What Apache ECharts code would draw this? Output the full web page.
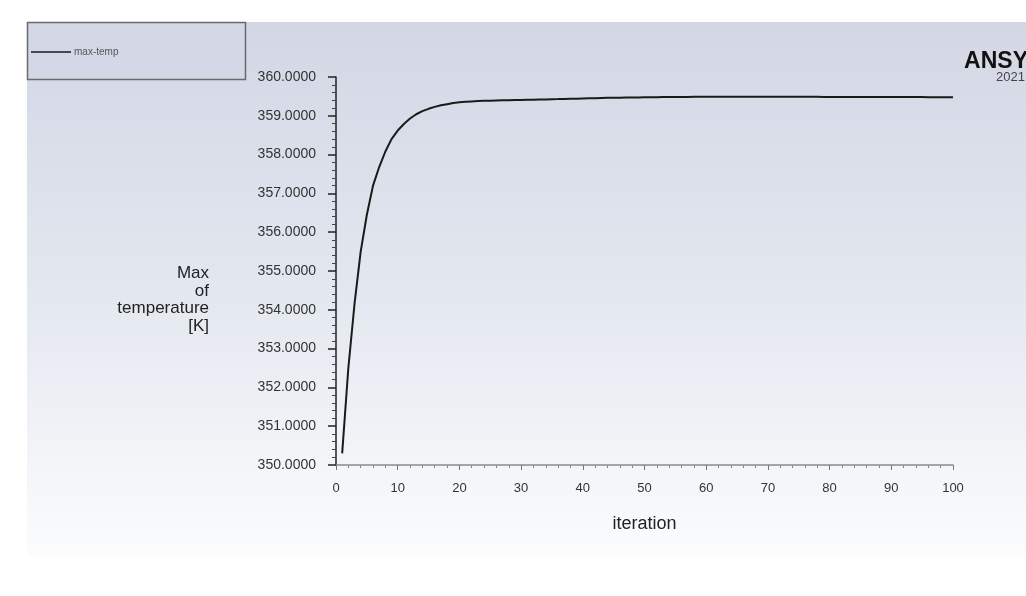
<!DOCTYPE html>
<html>
<head>
<meta charset="utf-8">
<script src="https://cdn.jsdelivr.net/npm/echarts@6/dist/echarts.min.js"></script>
<style>
html,body{margin:0;padding:0;background:#fff;}
#chart{width:1026px;height:596px;}
</style>
</head>
<body>
<div id="chart"></div>
<script>
const seriesName = 'max-temp';
const iterations = [];
for (let i = 1; i <= 100; i++) iterations.push(i);
const maxTemp = [
  350.30, 352.50, 354.15, 355.50, 356.45, 357.20, 357.68, 358.08, 358.40, 358.62,
  358.79, 358.93, 359.04, 359.12, 359.18, 359.23, 359.27, 359.30, 359.33, 359.35,
  359.36, 359.37, 359.38, 359.385, 359.39, 359.395, 359.40, 359.40, 359.405, 359.41,
  359.413, 359.416, 359.42, 359.423, 359.427, 359.43, 359.434, 359.438, 359.442, 359.446,
  359.45, 359.454, 359.458, 359.462, 359.465, 359.468, 359.47, 359.472, 359.474, 359.476,
  359.478, 359.48, 359.482, 359.484, 359.485, 359.486, 359.487, 359.488, 359.489, 359.49,
  359.49, 359.491, 359.491, 359.492, 359.492, 359.492, 359.492, 359.491, 359.491, 359.491,
  359.49, 359.49, 359.49, 359.489, 359.489, 359.488, 359.488, 359.488, 359.487, 359.487,
  359.486, 359.486, 359.486, 359.485, 359.485, 359.485, 359.484, 359.484, 359.484, 359.483,
  359.483, 359.483, 359.482, 359.482, 359.482, 359.481, 359.481, 359.481, 359.48, 359.48
];
const xTicks = { min: 0, max: 100, interval: 10 };
const yTicks = { min: 350, max: 360, interval: 1 };
const yTitle = 'Max\nof\ntemperature\n[K]';
const xTitle = 'iteration';
const logoMain = 'ANSY';
const logoSub = '2021';

const chart = echarts.init(document.getElementById('chart'), null, {renderer: 'canvas'});
const font = '"Liberation Sans", Arial, sans-serif';
chart.setOption({
  backgroundColor: '#ffffff',
  animation: false,
  textStyle: { fontFamily: font },
  graphic: [
    { type: 'rect', z: -10, silent: true,
      shape: { x: 27, y: 22, width: 999, height: 533 },
      style: { fill: new echarts.graphic.LinearGradient(0, 0, 0, 1, [
        { offset: 0, color: '#d3d7e5' },
        { offset: 0.5, color: '#e3e7ef' },
        { offset: 1, color: '#fbfcfd' }
      ]) } },
    { type: 'rect', z: -5, silent: true,
      shape: { x: 27.5, y: 22.5, width: 218, height: 57 },
      style: { fill: '#d3d7e6', stroke: '#6a6a6a', lineWidth: 1.5 } },
    { type: 'text', silent: true, x: 1028, y: 50,
      style: { text: logoMain, font: 'bold 23px ' + font, fill: '#111', align: 'right' } },
    { type: 'text', silent: true, x: 1025, y: 71,
      style: { text: logoSub, font: '13px ' + font, fill: '#444', align: 'right' } },
    { type: 'text', silent: true, x: 209, y: 265,
      style: { text: yTitle, font: '17px ' + font, fill: '#222', align: 'right', lineHeight: 17.5 } }
  ],
  legend: {
    left: 26, top: 42,
    itemWidth: 40, itemHeight: 12, itemGap: 4,
    data: [{ name: seriesName, icon: 'path://M0,0 L40,0 L40,1.4 L0,1.4 Z' }],
    itemStyle: { color: '#1a1a1a' },
    textStyle: { fontSize: 10, color: '#555', fontFamily: font, padding: [0, 0, 0, -2] }
  },
  grid: { left: 336, right: 73, top: 77, bottom: 131, containLabel: false },
  xAxis: {
    type: 'value', min: xTicks.min, max: xTicks.max, interval: xTicks.interval,
    name: xTitle, nameLocation: 'middle', nameGap: 50,
    nameTextStyle: { fontSize: 18, color: '#222', fontFamily: font },
    axisLine: { lineStyle: { color: '#8a8a8a', width: 1.5 } },
    axisTick: { show: true, length: 5, lineStyle: { color: '#777' } },
    minorTick: { show: true, splitNumber: 5, length: 3, lineStyle: { color: '#888' } },
    axisLabel: { fontSize: 13, color: '#333', margin: 17 },
    splitLine: { show: false }
  },
  yAxis: {
    type: 'value', min: yTicks.min, max: yTicks.max, interval: yTicks.interval,
    axisLine: { show: true, lineStyle: { color: '#222', width: 1.5 } },
    axisTick: { show: true, length: 8, lineStyle: { color: '#222', width: 1.5 } },
    minorTick: { show: true, splitNumber: 5, length: 4, lineStyle: { color: '#444' } },
    axisLabel: { fontSize: 14, color: '#333', margin: 20,
      formatter: v => v.toFixed(4) },
    splitLine: { show: false }
  },
  series: [{
    name: seriesName, type: 'line', showSymbol: false, symbol: 'none',
    data: iterations.map((x, i) => [x, maxTemp[i]]),
    lineStyle: { color: '#1a1a1a', width: 2 },
    itemStyle: { color: '#1a1a1a' }
  }]
});
</script>
</body>
</html>
